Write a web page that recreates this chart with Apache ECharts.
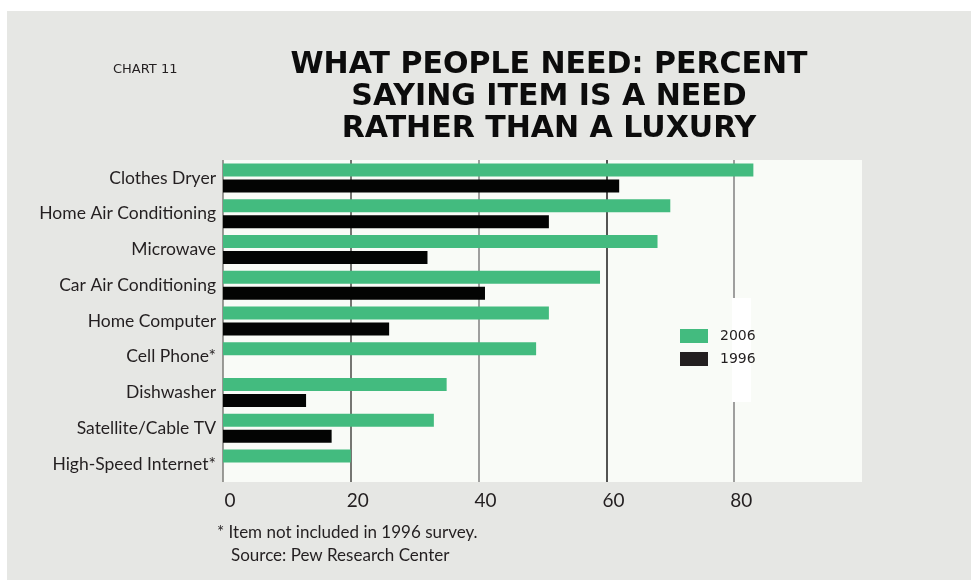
<!DOCTYPE html>
<html>
<head>
<meta charset="utf-8">
<script src="https://cdn.jsdelivr.net/npm/echarts@6/dist/echarts.min.js"></script>
<style>
  html, body { margin: 0; padding: 0; background: #ffffff; }
  #frame { position: absolute; left: 7px; top: 11px; width: 964px; height: 569px; background: #e6e7e4; }
  #chart { position: absolute; left: 0; top: 0; width: 971px; height: 580px; }
</style>
</head>
<body>
<div id="frame"></div>
<div id="chart"></div>
<script>
// Items asked about, top to bottom
const items = [
  'Clothes Dryer',
  'Home Air Conditioning',
  'Microwave',
  'Car Air Conditioning',
  'Home Computer',
  'Cell Phone*',
  'Dishwasher',
  'Satellite/Cable TV',
  'High-Speed Internet*'
];

// Percent saying the item is a need (null = not asked that year)
const need2006 = [83, 70, 68, 59, 51, 49, 35, 33, 20];
const need1996 = [62, 51, 32, 41, 26, null, 13, 17, null];

const years = ['2006', '1996'];
const xTicks = [0, 20, 40, 60, 80];

const titleLines = ['WHAT PEOPLE NEED: PERCENT', 'SAYING ITEM IS A NEED', 'RATHER THAN A LUXURY'];
const chartTag = 'CHART 11';
const noteLines = ['* Item not included in 1996 survey.', 'Source: Pew Research Center'];

const GREEN = '#43bb7f';
const BLACK = '#030403';
const INK = '#231f20';
const LABEL_FONT = 'Lato, "DejaVu Sans", sans-serif';

const chart = echarts.init(document.getElementById('chart'), null, { renderer: 'canvas' });

chart.setOption({
  backgroundColor: 'transparent',
  animation: false,
  title: [
    {
      text: titleLines.join('\n'),
      left: 549,
      top: 49,
      textAlign: 'center',
      padding: 0,
      textStyle: {
        fontFamily: '"DejaVu Sans", sans-serif',
        fontWeight: 'bold',
        fontSize: 30,
        lineHeight: 32,
        color: '#0c0c0c'
      }
    },
    {
      text: chartTag,
      left: 113,
      top: 63.5,
      padding: 0,
      textStyle: {
        fontFamily: '"DejaVu Sans", sans-serif',
        fontWeight: 500,
        fontSize: 13,
        lineHeight: 13,
        color: INK
      }
    },
    {
      text: noteLines[0],
      left: 217,
      top: 524,
      padding: 0,
      textStyle: { fontFamily: LABEL_FONT, fontWeight: 'normal', fontSize: 17, lineHeight: 18, color: INK }
    },
    {
      text: noteLines[1],
      left: 231,
      top: 546.5,
      padding: 0,
      textStyle: { fontFamily: LABEL_FONT, fontWeight: 'normal', fontSize: 17, lineHeight: 18, color: INK }
    }
  ],
  legend: {
    orient: 'vertical',
    left: 680,
    top: 329,
    padding: 0,
    itemWidth: 28,
    itemHeight: 14,
    itemGap: 9,
    icon: 'rect',
    data: [
      { name: years[0] },
      { name: years[1], itemStyle: { color: INK } }
    ],
    textStyle: {
      fontFamily: '"DejaVu Sans", sans-serif',
      fontSize: 14,
      color: INK,
      padding: [0, 0, 0, 7]
    }
  },
  graphic: [
    {
      // light panel behind the legend labels
      type: 'rect',
      z: 1,
      shape: { x: 732, y: 298, width: 19, height: 104 },
      style: { fill: '#ffffff' }
    }
  ],
  grid: {
    left: 223,
    right: 109,
    top: 160,
    bottom: 98,
    show: true,
    backgroundColor: '#f9fbf7',
    borderWidth: 0,
    containLabel: false
  },
  xAxis: {
    type: 'value',
    min: 0,
    max: 100,
    interval: 20,
    axisLine: { show: false },
    axisTick: { show: false },
    axisLabel: {
      margin: 9,
      padding: [0, 0, 0, 14],
      fontFamily: LABEL_FONT,
      fontSize: 19,
      color: INK,
      formatter: v => (xTicks.indexOf(v) >= 0 ? String(v) : '')
    },
    splitLine: {
      show: true,
      showMinLine: true,
      showMaxLine: false,
      lineStyle: {
        width: 1.5,
        color: ['#7d7d79', '#4a4a46', '#808080', '#1c1c1c', '#808080', '#808080']
      }
    }
  },
  yAxis: {
    type: 'category',
    data: items,
    inverse: true,
    axisLine: { show: false },
    axisTick: { show: false },
    axisLabel: {
      margin: 7,
      fontFamily: LABEL_FONT,
      fontSize: 17.5,
      color: INK
    }
  },
  series: [
    {
      name: years[0],
      type: 'bar',
      data: need2006,
      barWidth: 13,
      barGap: '23%',
      itemStyle: { color: GREEN },
      z: 2
    },
    {
      name: years[1],
      type: 'bar',
      data: need1996,
      barWidth: 13,
      barGap: '23%',
      itemStyle: { color: BLACK },
      z: 2
    }
  ]
});
</script>
</body>
</html>
